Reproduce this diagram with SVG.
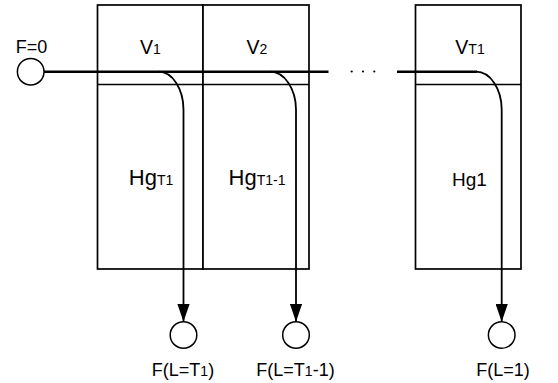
<svg xmlns="http://www.w3.org/2000/svg" width="558" height="383" viewBox="0 0 558 383">
<style>
.box{fill:#fff;stroke:#000;stroke-width:1.7}
.div{stroke:#000;stroke-width:1.7}
.node{fill:#fff;stroke:#000;stroke-width:1.5}
.thick{fill:none;stroke:#000;stroke-width:2.6}
.flow{fill:none;stroke:#000;stroke-width:1.8}
text{font-family:"Liberation Sans",Arial,sans-serif;fill:#000}
.lbl{font-size:18px}
.v{font-size:19.5px}
.hg{font-size:22px}
.sub{font-size:14px}
.vsub{font-size:14px}
</style>
<defs>
<marker id="arr" viewBox="0 0 18 12.4" refX="18" refY="6.2" markerWidth="18" markerHeight="12.4" markerUnits="userSpaceOnUse" orient="auto">
<path d="M0,0 L18,6.2 L0,12.4 Z" fill="#000"/>
</marker>
</defs>
<g id="block1">
<rect class="box" x="97.5" y="5" width="105.5" height="264"/>
<line class="div" x1="97.5" y1="84.5" x2="203" y2="84.5"/>
<text class="v" x="150.5" y="53.5" text-anchor="middle">V<tspan class="vsub">1</tspan></text>
<text class="hg" x="151" y="185" text-anchor="middle">Hg<tspan class="sub">T1</tspan></text>
</g>
<g id="block2">
<rect class="box" x="203" y="5" width="106" height="264"/>
<line class="div" x1="203" y1="84.5" x2="309" y2="84.5"/>
<text class="v" x="257" y="53.5" text-anchor="middle">V<tspan class="vsub">2</tspan></text>
<text class="hg" x="257" y="185" text-anchor="middle">Hg<tspan class="sub">T1-1</tspan></text>
</g>
<g id="block3">
<rect class="box" x="415.5" y="5" width="105.5" height="264"/>
<line class="div" x1="415.5" y1="84.5" x2="521" y2="84.5"/>
<text class="v" x="470" y="53.5" text-anchor="middle">V<tspan class="sub">T1</tspan></text>
<text x="469.5" y="186" text-anchor="middle" style="font-size:19px">Hg1</text>
</g>
<g id="start">
<circle class="node" cx="30.7" cy="71.7" r="13.3"/>
<text class="lbl" x="31.5" y="52.5" text-anchor="middle">F=0</text>
</g>
<g id="out1">
<circle class="node" cx="183.5" cy="335" r="13.3"/>
<text class="lbl" x="183" y="375.5" text-anchor="middle">F(L=T<tspan class="sub">1</tspan>)</text>
</g>
<g id="out2">
<circle class="node" cx="296" cy="335" r="13.3"/>
<text class="lbl" x="295.5" y="375.5" text-anchor="middle">F(L=T<tspan class="sub">1</tspan>-1)</text>
</g>
<g id="out3">
<circle class="node" cx="501.7" cy="335" r="13.3"/>
<text class="lbl" x="503" y="375.5" text-anchor="middle">F(L=1)</text>
</g>
<g id="connectors">
<line class="thick" x1="44" y1="71.7" x2="328.5" y2="71.7"/>
<line class="thick" x1="397" y1="71.7" x2="477" y2="71.7"/>
<circle cx="351.7" cy="71.5" r="1.1" fill="#000"/>
<circle cx="363" cy="71.5" r="1.1" fill="#000"/>
<circle cx="374.3" cy="71.5" r="1.1" fill="#000"/>
<path class="flow" d="M158.5,71.7 A25,38 0 0 1 183.5,110 V321.7" marker-end="url(#arr)"/>
<path class="flow" d="M270,71.7 A26,38 0 0 1 296,110 V321.7" marker-end="url(#arr)"/>
<path class="flow" d="M476,71.7 A25.7,38 0 0 1 501.7,110 V321.7" marker-end="url(#arr)"/>
</g>
</svg>
